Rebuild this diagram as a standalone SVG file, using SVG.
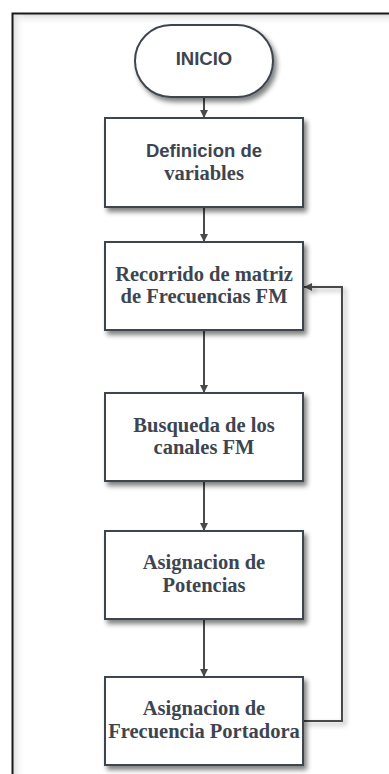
<svg xmlns="http://www.w3.org/2000/svg" width="389" height="774" viewBox="0 0 389 774">
  <defs>
    <style>
      .box { fill: #ffffff; stroke: #3d4550; stroke-width: 2; filter: url(#shadow); }
      .sans { font-family: "Liberation Sans", Arial, sans-serif; font-weight: bold; font-size: 18.5px; fill: #3d4550; text-anchor: middle; }
      .serif { font-family: "Liberation Serif", "Times New Roman", serif; font-weight: bold; font-size: 20.5px; fill: #3d4550; text-anchor: middle; }
      .conn { fill: none; stroke: #4a4a4a; stroke-width: 2; }
    </style>
    <filter id="shadow" x="-20%" y="-20%" width="150%" height="150%">
      <feGaussianBlur in="SourceAlpha" stdDeviation="2.5"/>
      <feOffset dx="3" dy="4" result="b"/>
      <feComponentTransfer><feFuncA type="linear" slope="0.5"/></feComponentTransfer>
      <feMerge><feMergeNode/><feMergeNode in="SourceGraphic"/></feMerge>
    </filter>
    <filter id="lshadow" x="-50%" y="-10%" width="300%" height="130%">
      <feGaussianBlur in="SourceAlpha" stdDeviation="2.5"/>
      <feOffset dx="3" dy="3" result="b"/>
      <feComponentTransfer><feFuncA type="linear" slope="0.35"/></feComponentTransfer>
      <feMerge><feMergeNode/><feMergeNode in="SourceGraphic"/></feMerge>
    </filter>
    <linearGradient id="gTop" x1="0" y1="0" x2="0" y2="1">
      <stop offset="0" stop-color="#dcdcdc"/>
      <stop offset="1" stop-color="#ffffff" stop-opacity="0"/>
    </linearGradient>
    <linearGradient id="gLeft" x1="0" y1="0" x2="1" y2="0">
      <stop offset="0" stop-color="#dcdcdc"/>
      <stop offset="1" stop-color="#ffffff" stop-opacity="0"/>
    </linearGradient>
    <marker id="arrow" viewBox="0 0 10 10" refX="10" refY="5" markerWidth="4" markerHeight="4" orient="auto" markerUnits="strokeWidth">
      <path d="M0,0 L10,5 L0,10 z" fill="#4a4a4a"/>
    </marker>
  </defs>

  <rect x="0" y="0" width="389" height="774" fill="#ffffff"/>

  <g id="frame">
    <rect x="13" y="14" width="376" height="12" fill="url(#gTop)"/>
    <rect x="13" y="14" width="12" height="760" fill="url(#gLeft)"/>
    <path d="M12.5,774 L12.5,13.5 L389,13.5" fill="none" stroke="#1a1a1a" stroke-width="2"/>
  </g>

  <g id="connectors">
    <path class="conn" d="M204,97 L204,118" marker-end="url(#arrow)"/>
    <path class="conn" d="M204,207 L204,242" marker-end="url(#arrow)"/>
    <path class="conn" d="M204,330 L204,393" marker-end="url(#arrow)"/>
    <path class="conn" d="M204,481 L204,531" marker-end="url(#arrow)"/>
    <path class="conn" d="M204,619 L204,677" marker-end="url(#arrow)"/>
    <path class="conn" d="M303,721 L342,721 L342,287 L304,287" filter="url(#lshadow)" marker-end="url(#arrow)"/>
  </g>

  <g id="inicio">
    <rect class="box" x="135" y="25" width="138" height="72" rx="36" ry="36"/>
    <text class="sans" x="204" y="65">INICIO</text>
  </g>

  <g id="definicion">
    <rect class="box" x="105" y="118" width="198" height="89"/>
    <text class="sans" x="204" y="157">Definicion de</text>
    <text class="serif" x="204" y="180">variables</text>
  </g>

  <g id="recorrido">
    <rect class="box" x="105" y="242" width="198" height="88"/>
    <text class="serif" x="204" y="281">Recorrido de matriz</text>
    <text class="serif" x="204" y="303">de Frecuencias FM</text>
  </g>

  <g id="busqueda">
    <rect class="box" x="105" y="393" width="198" height="88"/>
    <text class="serif" x="204" y="432">Busqueda de los</text>
    <text class="serif" x="204" y="454">canales FM</text>
  </g>

  <g id="potencias">
    <rect class="box" x="105" y="531" width="198" height="88"/>
    <text class="serif" x="204" y="569">Asignacion de</text>
    <text class="serif" x="204" y="592">Potencias</text>
  </g>

  <g id="portadora">
    <rect class="box" x="105" y="677" width="198" height="88"/>
    <text class="serif" x="204" y="715">Asignacion de</text>
    <text class="serif" x="204" y="738">Frecuencia Portadora</text>
  </g>
</svg>
